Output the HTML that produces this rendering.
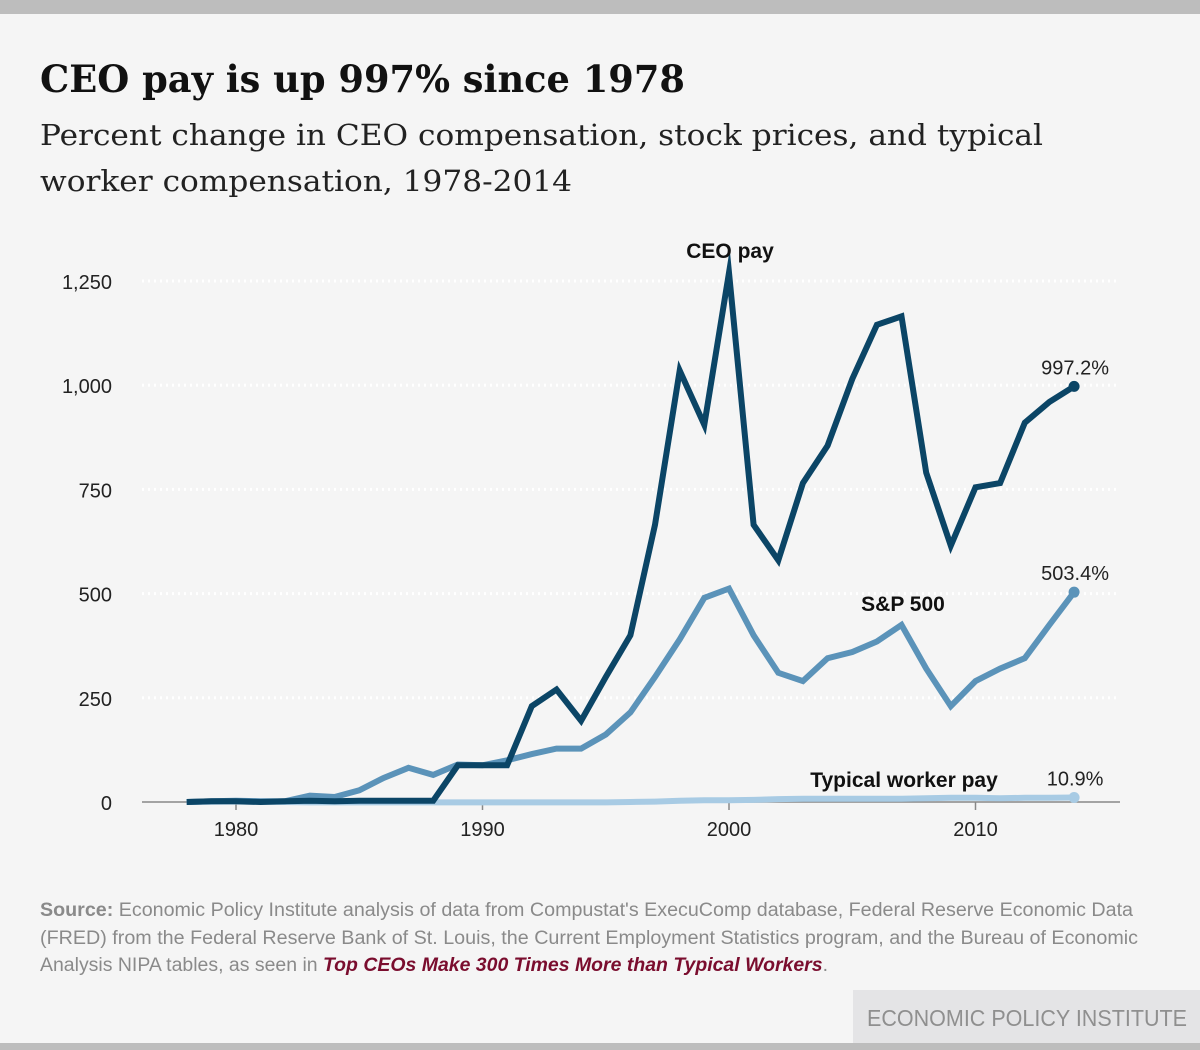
<!DOCTYPE html>
<html><head><meta charset="utf-8"><style>
body{margin:0;background:#f5f5f5;}
svg{display:block}
</style></head><body>
<svg width="1200" height="1050" viewBox="0 0 1200 1050">
<rect x="0" y="0" width="1200" height="1050" fill="#f5f5f5"/>
<rect x="0" y="0" width="1200" height="14" fill="#bdbdbd"/>
<rect x="0" y="1043" width="1200" height="7" fill="#bdbdbd"/>
<text x="40" y="92" font-family="DejaVu Serif, serif" font-weight="bold" font-size="37" fill="#111" textLength="645" lengthAdjust="spacingAndGlyphs">CEO pay is up 997% since 1978</text>
<text x="40" y="145" font-family="DejaVu Serif, serif" font-size="29" fill="#222" textLength="1003" lengthAdjust="spacingAndGlyphs">Percent change in CEO compensation, stock prices, and typical</text>
<text x="40" y="191" font-family="DejaVu Serif, serif" font-size="29" fill="#222" textLength="532" lengthAdjust="spacingAndGlyphs">worker compensation, 1978-2014</text>
<g id="grid"></g>
<g id="axes"></g>
<g id="series"></g>
<g id="labels"></g>
<text x="40" y="916" font-family="Liberation Sans, sans-serif" font-size="19" fill="#8a8a8a" textLength="1093" lengthAdjust="spacingAndGlyphs"><tspan font-weight="bold">Source:</tspan> Economic Policy Institute analysis of data from Compustat's ExecuComp database, Federal Reserve Economic Data</text>
<text x="40" y="944" font-family="Liberation Sans, sans-serif" font-size="19" fill="#8a8a8a" textLength="1098" lengthAdjust="spacingAndGlyphs">(FRED) from the Federal Reserve Bank of St. Louis, the Current Employment Statistics program, and the Bureau of Economic</text>
<text x="40" y="971" font-family="Liberation Sans, sans-serif" font-size="19" fill="#8a8a8a" textLength="788" lengthAdjust="spacingAndGlyphs">Analysis NIPA tables, as seen in <tspan fill="#7a0d2e" font-weight="bold" font-style="italic">Top CEOs Make 300 Times More than Typical Workers</tspan>.</text>
<rect x="853" y="990" width="347" height="53" fill="#e4e4e6"/>
<text x="867" y="1026" font-family="Liberation Sans, sans-serif" font-size="23" fill="#8f8f8f" textLength="320" lengthAdjust="spacingAndGlyphs">ECONOMIC POLICY INSTITUTE</text>
</svg>
<script>
const years=[];for(let y=1978;y<=2014;y++)years.push(y);
const ceoPay=[0,2,2,0,2,3,2,3,3,3,3,88,88,88,230,270,195,300,400,665,1035,905,1270,665,580,765,855,1015,1145,1165,790,615,755,765,910,960,997.2];
const sp500=[0,2,3,2,2,15,12,28,58,82,65,90,88,100,115,128,128,162,215,300,390,490,512,400,310,290,345,360,385,425,320,230,290,320,345,425,503.4];
const workerPay=[0,0.5,1,0.5,0,-1,-1,-1,-1,-1,-1,-1,-1,-1,-1,-1,-1,-1,0,1,3,4,4,5,7,8,8,8,8,8,9,10,10,9,10,10,10.9];
const yTicks=[0,250,500,750,1000,1250];
const yTickLabels=["0","250","500","750","1,000","1,250"];
const xTicks=[1980,1990,2000,2010];
const NS="http://www.w3.org/2000/svg";
const xs=y=>236+(y-1980)*24.65;
const ys=v=>802-v*0.4168;
function mk(tag,attrs,parent,text){const e=document.createElementNS(NS,tag);for(const k in attrs)e.setAttribute(k,attrs[k]);if(text!==undefined)e.textContent=text;document.getElementById(parent).appendChild(e);return e;}
yTicks.forEach((t,i)=>{
 if(t>0){const g=mk('line',{x1:142,x2:1120,y1:ys(t),y2:ys(t),stroke:'#fff',"stroke-width":3,"stroke-dasharray":"2 4"},'grid');
 
 }
 const l=mk('text',{x:112,y:ys(t)+8,"text-anchor":"end","font-family":"Liberation Sans, sans-serif","font-size":20,fill:"#222"},'axes',yTickLabels[i]);
 
 
});
const ax=mk('line',{x1:142,x2:1120,y1:802,y2:802,stroke:'#888',"stroke-width":1.5},'axes');


xTicks.forEach(t=>{
 const tk=mk('line',{x1:xs(t),x2:xs(t),y1:802,y2:810,stroke:'#888',"stroke-width":1.5},'axes');
 
 
 const l=mk('text',{x:xs(t),y:836,"text-anchor":"middle","font-family":"Liberation Sans, sans-serif","font-size":20,fill:"#222"},'axes',String(t));
 
 
});
function line(data,color,name){
 const d=data.map((v,i)=>(i?'L':'M')+xs(years[i]).toFixed(1)+','+ys(v).toFixed(1)).join('');
 const p=mk('path',{d:d,fill:'none',stroke:color,"stroke-width":6,"stroke-linejoin":"miter","stroke-miterlimit":10},'series');
 
 
 const n=data.length-1;
 const c=mk('circle',{cx:xs(years[n]),cy:ys(data[n]),r:5.5,fill:color},'series');
 
 
 const t=mk('text',{x:xs(years[n])+1,y:ys(data[n])-12,"text-anchor":"middle","font-family":"Liberation Sans, sans-serif","font-size":20,fill:"#222"},'labels',(Math.round(data[n]*10)/10).toFixed(1)+'%');
 
 
}
line(workerPay,'#a8cbe4','worker-pay');
line(sp500,'#5b93b9','sp500');
line(ceoPay,'#0b4566','ceo-pay');
[["CEO pay",730,258,'ceo-pay-label'],["S&P 500",903,611,'sp500-label'],["Typical worker pay",904,787,'worker-pay-label']].forEach(a=>{
 const t=mk('text',{x:a[1],y:a[2],"text-anchor":"middle","font-family":"Liberation Sans, sans-serif","font-weight":"bold","font-size":21,fill:"#111"},'labels',a[0]);
 
 
});
</script>
</body></html>
